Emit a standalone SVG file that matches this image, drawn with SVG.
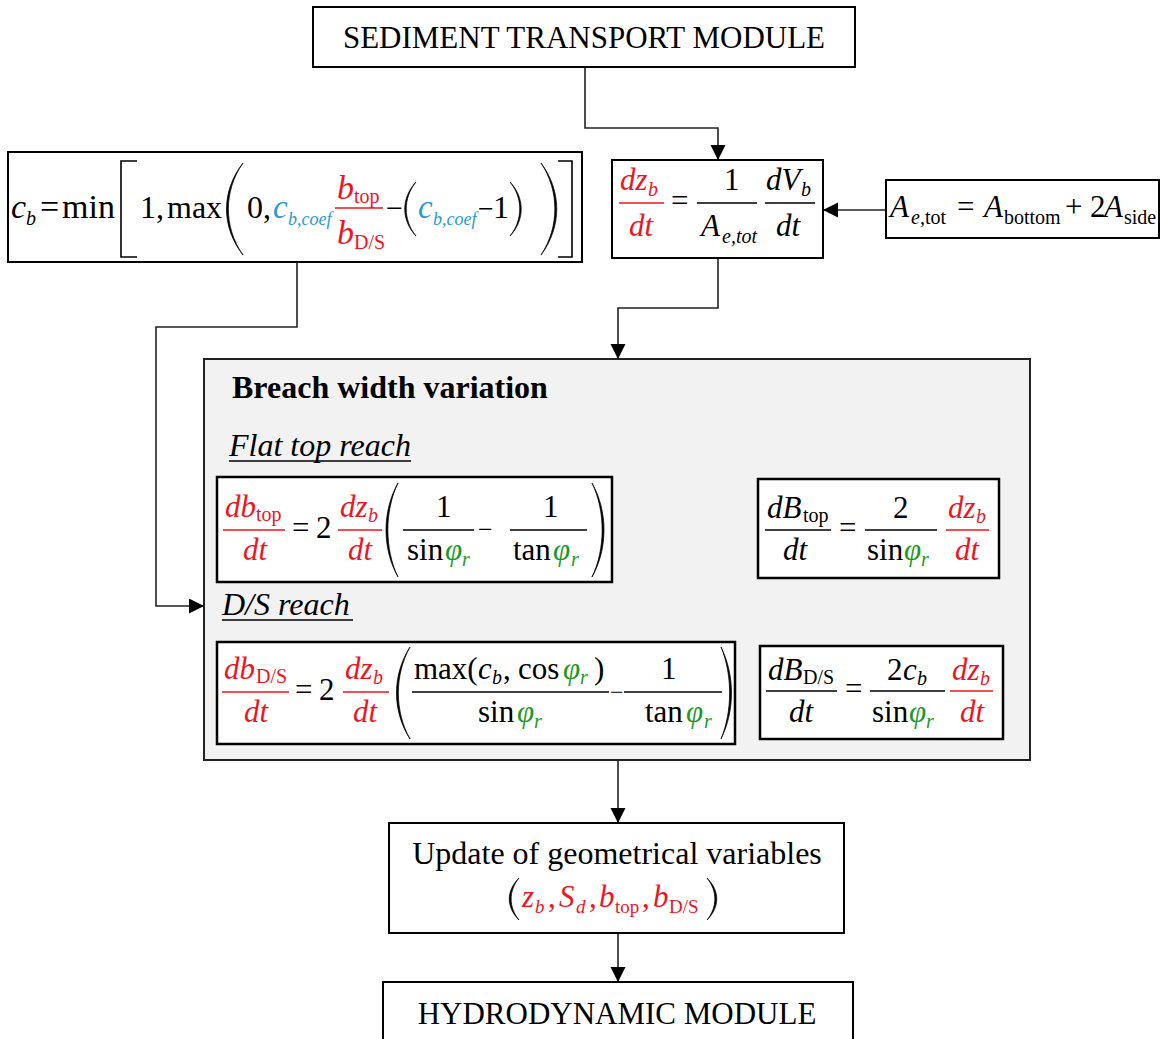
<svg xmlns="http://www.w3.org/2000/svg" width="1161" height="1039" viewBox="0 0 1161 1039" font-size="31">
<defs>
<marker id="ah" markerUnits="userSpaceOnUse" markerWidth="16" markerHeight="16" refX="15" refY="7.5" orient="auto">
<path d="M0,0 L15,7.5 L0,15 z" fill="#000"/>
</marker>
<style>
text{font-family:"Liberation Serif","Times New Roman",serif;fill:#000}
.box{fill:#fff;stroke:#000;stroke-width:2}
.eq{fill:#fff;stroke:#000;stroke-width:2.5}
.s{font-size:20px}
.i{font-style:italic}
.r{fill:#f0141e}
.b{fill:#2b9ad4}
.g{fill:#1c9a22}
.fr{stroke:#000;stroke-width:1.3}
.frr{stroke:#f0141e;stroke-width:1.3}
.dp{fill:#000;stroke:#000;stroke-width:0.7}
.dl{fill:none;stroke:#000;stroke-width:1.6}
.con{fill:none;stroke:#222;stroke-width:1.6}
.ul{stroke:#000;stroke-width:1.3}
</style>
</defs>
<rect width="1161" height="1039" fill="#fff"/>

<g id="connectors">
<path class="con" d="M585,67 V128 H718 V160" marker-end="url(#ah)"/>
<path class="con" d="M886,210 H823" marker-end="url(#ah)"/>
<path class="con" d="M718,258 V308 H618 V359" marker-end="url(#ah)"/>
<path class="con" d="M297,262 V327 H156 V606 H204" marker-end="url(#ah)"/>
<path class="con" d="M618,760 V823" marker-end="url(#ah)"/>
<path class="con" d="M618,933 V982" marker-end="url(#ah)"/>
</g>

<g id="sediment">
<rect class="box" x="313" y="7" width="542" height="60"/>
<text x="584" y="48" text-anchor="middle">SEDIMENT TRANSPORT MODULE</text>
</g>

<g id="cb-eq">
<rect class="box" x="8" y="152" width="574" height="110"/>
<text class="i" x="11" y="218" font-size="34">c</text>
<text class="i s" x="26" y="225">b</text>
<text x="40" y="218" font-size="34">=</text>
<text x="62" y="218" font-size="34">min</text>
<path class="dl" d="M137,161 H121 V257 H137"/>
<text x="140" y="218" font-size="32">1,</text>
<text x="167" y="218" font-size="32">max</text>
<path class="dp" d="M243,163 C221,191 221,227 243,255 C223.5,227 223.5,191 243,163Z"/>
<text x="247" y="218" font-size="32">0,</text>
<text class="i b" x="273" y="218" font-size="33">c</text>
<text class="i b" x="288" y="225" font-size="18">b,coef</text>
<line class="frr" x1="335" y1="208" x2="383" y2="208"/>
<text class="i r" x="337" y="199" font-size="34">b</text>
<text class="r s" x="354" y="203">top</text>
<text class="i r" x="337" y="244" font-size="34">b</text>
<text class="r s" x="354" y="249">D/S</text>
<text x="386" y="218" font-size="30">−</text>
<path class="dp" d="M416,182 C401,198 401,220 416,236 C403,220 403,198 416,182Z"/>
<text class="i b" x="418" y="218" font-size="33">c</text>
<text class="i b" x="433" y="225" font-size="18">b,coef</text>
<text x="478" y="218" font-size="28">−</text>
<text x="493" y="218" font-size="32">1</text>
<path class="dp" d="M510,182 C525,198 525,220 510,236 C523,220 523,198 510,182Z"/>
<path class="dp" d="M541,163 C562,191 562,227 541,255 C559.5,227 559.5,191 541,163Z"/>
<path class="dl" d="M558,161 H572 V257 H558"/>
</g>

<g id="dz-eq">
<rect class="box" x="612" y="160" width="211" height="98"/>
<text class="i r" x="620" y="190">dz</text>
<text class="i r s" x="648" y="196">b</text>
<line class="frr" x1="619" y1="203" x2="664" y2="203"/>
<text class="i r" x="629" y="236">dt</text>
<text x="671" y="211">=</text>
<text x="724" y="190">1</text>
<line class="fr" x1="697" y1="203" x2="757" y2="203"/>
<text class="i" x="701" y="236">A</text>
<text class="i s" x="722" y="243">e,tot</text>
<text class="i" x="766" y="190">dV</text>
<text class="i s" x="801" y="196">b</text>
<line class="fr" x1="765" y1="203" x2="815" y2="203"/>
<text class="i" x="776" y="236">dt</text>
</g>

<g id="aetot-eq">
<rect class="box" x="886" y="180" width="273" height="58"/>
<text class="i" x="890" y="217">A</text>
<text class="i s" x="911" y="224">e,</text>
<text class="s" x="925" y="224">tot</text>
<text x="957" y="217">=</text>
<text class="i" x="984" y="217">A</text>
<text class="s" x="1004" y="224">bottom</text>
<text x="1065" y="217">+</text>
<text x="1090" y="217">2</text>
<text class="i" x="1104" y="217">A</text>
<text class="s" x="1124" y="224">side</text>
</g>

<g id="breach">
<rect x="204" y="359" width="826" height="401" fill="#f2f2f2" stroke="#222" stroke-width="2"/>
<text x="232" y="398" font-weight="bold" font-size="32">Breach width variation</text>
<text class="i" x="229" y="456" font-size="32">Flat top reach</text>
<line class="ul" x1="229" y1="461" x2="411" y2="461"/>
<text class="i" x="222" y="615" font-size="32">D/S reach</text>
<line class="ul" x1="222" y1="620" x2="353" y2="620"/>
</g>

<g id="eq-dbtop">
<rect class="eq" x="217" y="477" width="395" height="105"/>
<text class="i r" x="225" y="517">db</text>
<text class="r s" x="256" y="521">top</text>
<line class="frr" x1="223" y1="530" x2="285" y2="530"/>
<text class="i r" x="243" y="560">dt</text>
<text x="292" y="538">=</text>
<text x="316" y="538">2</text>
<text class="i r" x="340" y="517">dz</text>
<text class="i r s" x="368" y="522">b</text>
<line class="frr" x1="338" y1="530" x2="382" y2="530"/>
<text class="i r" x="348" y="560">dt</text>
<path class="dp" d="M398,483 C382,511 382,549 398,577 C384.5,549 384.5,511 398,483Z"/>
<text x="436" y="517">1</text>
<line class="fr" x1="403" y1="530" x2="474" y2="530"/>
<text x="407" y="560">sin</text>
<text class="i g" x="445" y="560">φ</text>
<text class="i g s" x="462" y="566">r</text>
<text x="478" y="538" font-size="26">−</text>
<text x="543" y="517">1</text>
<line class="fr" x1="510" y1="530" x2="587" y2="530"/>
<text x="513" y="560">tan</text>
<text class="i g" x="553" y="560">φ</text>
<text class="i g s" x="571" y="566">r</text>
<path class="dp" d="M592,483 C608,511 608,549 592,577 C605.5,549 605.5,511 592,483Z"/>
</g>

<g id="eq-dBtop">
<rect class="eq" x="758" y="479" width="241" height="99"/>
<text class="i" x="767" y="518">dB</text>
<text class="s" x="803" y="522">top</text>
<line class="fr" x1="765" y1="530" x2="831" y2="530"/>
<text class="i" x="783" y="560">dt</text>
<text x="839" y="538">=</text>
<text x="893" y="518">2</text>
<line class="fr" x1="865" y1="530" x2="937" y2="530"/>
<text x="867" y="560">sin</text>
<text class="i g" x="904" y="560">φ</text>
<text class="i g s" x="921" y="566">r</text>
<text class="i r" x="948" y="518">dz</text>
<text class="i r s" x="976" y="523">b</text>
<line class="frr" x1="946" y1="530" x2="989" y2="530"/>
<text class="i r" x="955" y="560">dt</text>
</g>

<g id="eq-dbds">
<rect class="eq" x="217" y="642" width="518" height="102"/>
<text class="i r" x="224" y="679">db</text>
<text class="r s" x="256" y="683">D/S</text>
<line class="frr" x1="222" y1="692" x2="289" y2="692"/>
<text class="i r" x="244" y="722">dt</text>
<text x="295" y="700">=</text>
<text x="319" y="700">2</text>
<text class="i r" x="345" y="679">dz</text>
<text class="i r s" x="373" y="684">b</text>
<line class="frr" x1="343" y1="692" x2="389" y2="692"/>
<text class="i r" x="353" y="722">dt</text>
<path class="dp" d="M410,647 C392,675 392,711 410,739 C394.5,711 394.5,675 410,647Z"/>
<text x="414" y="679">max(</text>
<text class="i" x="478" y="679">c</text>
<text class="i s" x="492" y="684">b</text>
<text x="503" y="679">,</text>
<text x="518" y="679">cos</text>
<text class="i g" x="563" y="679">φ</text>
<text class="i g s" x="580" y="684">r</text>
<text x="594" y="679">)</text>
<line class="fr" x1="412" y1="692" x2="609" y2="692"/>
<text x="478" y="722">sin</text>
<text class="i g" x="517" y="722">φ</text>
<text class="i g s" x="534" y="728">r</text>
<text x="610" y="700" font-size="24">−</text>
<text x="661" y="679">1</text>
<line class="fr" x1="624" y1="692" x2="722" y2="692"/>
<text x="645" y="722">tan</text>
<text class="i g" x="686" y="722">φ</text>
<text class="i g s" x="704" y="728">r</text>
<path class="dp" d="M721,647 C735,675 735,711 721,739 C732.5,711 732.5,675 721,647Z"/>
</g>

<g id="eq-dBds">
<rect class="eq" x="760" y="646" width="243" height="93"/>
<text class="i" x="768" y="680">dB</text>
<text class="s" x="803" y="684">D/S</text>
<line class="fr" x1="766" y1="691" x2="837" y2="691"/>
<text class="i" x="789" y="722">dt</text>
<text x="845" y="699">=</text>
<text x="887" y="680">2</text>
<text class="i" x="903" y="680">c</text>
<text class="i s" x="917" y="685">b</text>
<line class="fr" x1="870" y1="691" x2="945" y2="691"/>
<text x="872" y="722">sin</text>
<text class="i g" x="909" y="722">φ</text>
<text class="i g s" x="926" y="728">r</text>
<text class="i r" x="952" y="680">dz</text>
<text class="i r s" x="980" y="685">b</text>
<line class="frr" x1="950" y1="691" x2="993" y2="691"/>
<text class="i r" x="960" y="722">dt</text>
</g>

<g id="update">
<rect class="box" x="389" y="823" width="455" height="110"/>
<text x="617" y="864" text-anchor="middle" font-size="32">Update of geometrical variables</text>
<path class="dp" d="M519,878 C506,891 506,907 519,920 C508.5,907 508.5,891 519,878Z"/>
<text class="i r" x="522" y="907">z</text>
<text class="i r" x="535" y="913" font-size="19">b</text>
<text class="r" x="548" y="907">,</text>
<text class="i r" x="559" y="907">S</text>
<text class="i r" x="576" y="913" font-size="19">d</text>
<text class="r" x="589" y="907">,</text>
<text class="i r" x="599" y="907">b</text>
<text class="r" x="615" y="913" font-size="19">top</text>
<text class="r" x="642" y="907">,</text>
<text class="i r" x="653" y="907">b</text>
<text class="r" x="669" y="913" font-size="19">D/S</text>
<path class="dp" d="M707,878 C720,891 720,907 707,920 C717.5,907 717.5,891 707,878Z"/>
</g>

<g id="hydro">
<rect class="box" x="383" y="982" width="470" height="70"/>
<text x="617" y="1024" text-anchor="middle">HYDRODYNAMIC MODULE</text>
</g>
</svg>
